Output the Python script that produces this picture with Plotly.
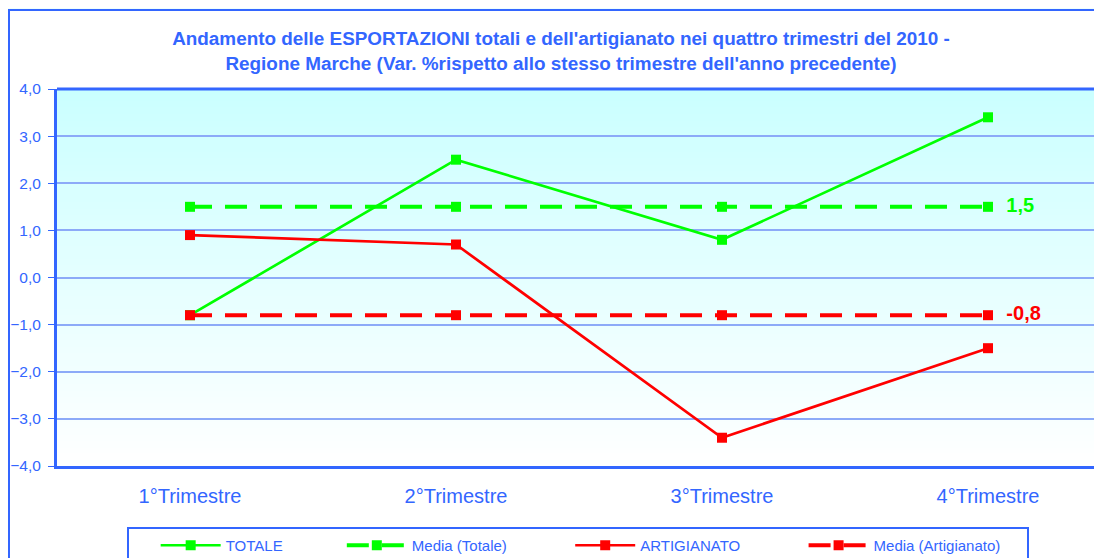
import plotly.graph_objects as go

categories = ["1°Trimestre", "2°Trimestre", "3°Trimestre", "4°Trimestre"]
totale = [-0.8, 2.5, 0.8, 3.4]
media_totale = [1.5, 1.5, 1.5, 1.5]
artigianato = [0.9, 0.7, -3.4, -1.5]
media_artigianato = [-0.8, -0.8, -0.8, -0.8]
y_ticks = [-4, -3, -2, -1, 0, 1, 2, 3, 4]

GREEN = "#00FF00"
RED = "#FF0000"
BLUE = "#3366FF"
FONT = "Liberation Sans, Arial, sans-serif"

# the page body adds an 8px offset; work in page pixels and convert
OFF = 8
W, H = 1102, 558
PLOT_L, PLOT_T, PLOT_B = 57, 89, 466          # page px
L = PLOT_L - OFF
T = PLOT_T - OFF
B = H - (PLOT_B - OFF)
R = 0
PW, PH = W - L - R, H - T - B


def px_x(px):
    return (px - OFF - L) / PW


def px_y(py):
    return (H - B - (py - OFF)) / PH


def cont_y(py):
    return 1 - (py - OFF) / H


def last_label(vals):
    return [""] * (len(vals) - 1) + ["\u00a0\u00a0" + f"{vals[-1]:.1f}".replace(".", ",")]


def pad(name, n):
    return name + "\u00a0" * n


# category spacing: Q1 at page x 190, 266 px per category
x_hi = -0.5 + PW / 266.0

fig = go.Figure()
fig.add_trace(go.Scatter(
    x=categories, y=totale, name=pad("TOTALE", 13), mode="lines+markers",
    line=dict(color=GREEN, width=2.7),
    marker=dict(symbol="square", size=10, color=GREEN),
))
fig.add_trace(go.Scatter(
    x=categories, y=media_totale, name=pad("Media (Totale)", 14), mode="lines+markers+text",
    line=dict(color=GREEN, width=4, dash="22px,13px"),
    marker=dict(symbol="square", size=10, color=GREEN),
    text=last_label(media_totale), textposition="middle right",
    textfont=dict(color=GREEN, size=20, family=FONT, weight="bold"),
    cliponaxis=False,
))
fig.add_trace(go.Scatter(
    x=categories, y=artigianato, name=pad("ARTIGIANATO", 14), mode="lines+markers",
    line=dict(color=RED, width=2.7),
    marker=dict(symbol="square", size=10, color=RED),
))
fig.add_trace(go.Scatter(
    x=categories, y=media_artigianato, name=pad("Media (Artigianato)", 5), mode="lines+markers+text",
    line=dict(color=RED, width=4, dash="22px,13px"),
    marker=dict(symbol="square", size=10, color=RED),
    text=last_label(media_artigianato), textposition="middle right",
    textfont=dict(color=RED, size=20, family=FONT, weight="bold"),
    cliponaxis=False,
))

shapes = []
# outer chart box
shapes.append(dict(
    type="rect", xref="paper", yref="paper",
    x0=px_x(9), x1=px_x(W + 40), y0=px_y(H + 40), y1=px_y(10),
    fillcolor="white", line=dict(color=BLUE, width=2), layer="below",
))
# background gradient bands inside plot area (white bottom -> cyan top)
N = 60
for i in range(N):
    tm = (i + 0.5) / N
    r = round(255 - (255 - 202) * tm)
    shapes.append(dict(
        type="rect", xref="paper", yref="paper",
        x0=0, x1=1, y0=i / N, y1=(i + 1) / N + 0.002,
        fillcolor=f"rgb({r},255,255)", line=dict(width=0), layer="below",
    ))
# darker gridline at -1 (category axis crossing)
shapes.append(dict(
    type="line", xref="paper", yref="y",
    x0=0, x1=1, y0=y_ticks[3], y1=y_ticks[3],
    line=dict(color=BLUE, width=1.2), layer="below",
))
# top border of plot area
shapes.append(dict(
    type="line", xref="paper", yref="paper",
    x0=0, x1=1.02, y0=1, y1=1, line=dict(color=BLUE, width=3),
))

fig.update_layout(
    width=W, height=H,
    margin=dict(l=L, r=R, t=T, b=B, autoexpand=False),
    paper_bgcolor="#EEFFFF",
    plot_bgcolor="rgba(0,0,0,0)",
    separators=",.",
    font=dict(family=FONT, color=BLUE),
    title=dict(
        text="Andamento delle ESPORTAZIONI totali e dell'artigianato nei quattro trimestri del 2010 -<br>"
             "Regione Marche (Var. %rispetto allo stesso trimestre dell'anno precedente)",
        x=px_x(561), xref="paper", xanchor="center",
        y=cont_y(45), yref="container", yanchor="middle",
        font=dict(size=18.9, color=BLUE, family=FONT, weight="bold"),
    ),
    xaxis=dict(
        range=[-0.5, x_hi], automargin=False,
        showgrid=False, zeroline=False,
        showline=True, linecolor=BLUE, linewidth=3,
        ticks="", tickfont=dict(size=20, color=BLUE),
        ticklabelstandoff=10,
    ),
    yaxis=dict(
        range=[-4, 4], tickvals=y_ticks, tickformat=".1f", automargin=False,
        showgrid=True, gridcolor="#8CAAF8", gridwidth=2,
        zeroline=False,
        showline=True, linecolor=BLUE, linewidth=3,
        ticks="outside", ticklen=6, tickcolor=BLUE, tickwidth=1,
        tickfont=dict(size=15.5, color=BLUE),
        ticklabelstandoff=4,
    ),
    showlegend=True,
    legend=dict(
        orientation="h", xref="paper", yref="container",
        x=px_x(127), xanchor="left", y=cont_y(527), yanchor="top",
        bordercolor=BLUE, borderwidth=2, bgcolor="white",
        font=dict(size=15, color=BLUE, family=FONT),
        title=dict(text="&nbsp;" * 4, side="left", font=dict(size=15)),
        itemwidth=60,
    ),
    shapes=shapes,
)

fig.write_html("out.html")
